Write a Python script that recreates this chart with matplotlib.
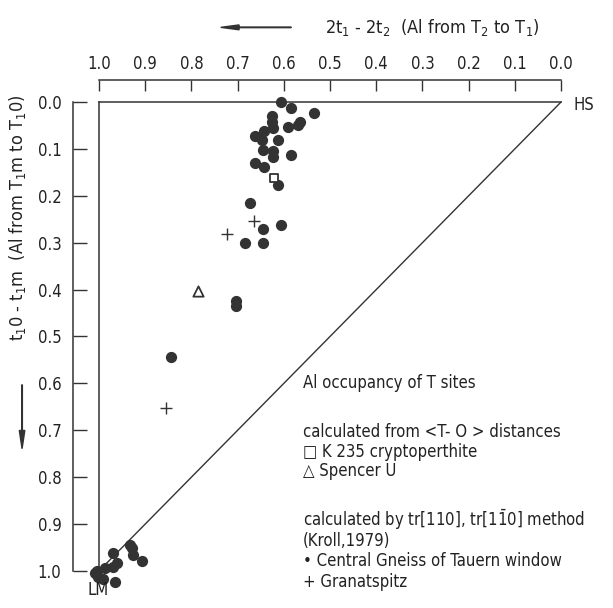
import matplotlib
matplotlib.use("Agg")
import matplotlib.pyplot as plt
from matplotlib.patches import FancyArrow

plt.rcParams['font.family'] = ['DejaVu Sans']
plt.rcParams['font.stretch'] = 'condensed'
plt.rcParams['mathtext.fontset'] = 'custom'
plt.rcParams['mathtext.rm'] = 'DejaVu Sans:stretch=condensed'
plt.rcParams['mathtext.it'] = 'DejaVu Sans:stretch=condensed'

# Central Gneiss of Tauern window (dots)
gneiss_x = [0.605, 0.585, 0.534, 0.625, 0.625, 0.623, 0.564, 0.569, 0.592,
            0.642, 0.662, 0.648, 0.613, 0.644, 0.623, 0.623, 0.585, 0.662,
            0.643, 0.613, 0.673, 0.646, 0.605, 0.685, 0.646,
            0.704, 0.704, 0.845,
            0.933, 0.929, 0.926, 0.908, 0.969, 0.962, 0.969, 0.987,
            1.009, 1.002, 0.991, 0.965, 1.005]
gneiss_y = [0.001, 0.012, 0.023, 0.030, 0.042, 0.056, 0.043, 0.049, 0.053,
            0.061, 0.072, 0.081, 0.082, 0.102, 0.104, 0.117, 0.113, 0.129,
            0.139, 0.178, 0.215, 0.271, 0.262, 0.301, 0.301,
            0.425, 0.435, 0.543,
            0.945, 0.952, 0.966, 0.978, 0.962, 0.984, 0.991, 0.994,
            1.005, 1.012, 1.018, 1.024, 1.001]

# Granatspitz (plus)
granat_x = [0.665, 0.724, 0.854]
granat_y = [0.253, 0.282, 0.653]

# K 235 cryptoperthite (square), Spencer U (triangle)
k235_x, k235_y = [0.622], [0.163]
spencer_x, spencer_y = [0.785], [0.402]

ticks = [1.0, 0.9, 0.8, 0.7, 0.6, 0.5, 0.4, 0.3, 0.2, 0.1, 0.0]
tick_labels = ['1.0', '0.9', '0.8', '0.7', '0.6', '0.5', '0.4', '0.3', '0.2', '0.1', '0.0']

ink = '#333333'
txt = '#222222'

fig = plt.figure(figsize=(6.13, 6.08), dpi=100)
ax = fig.add_axes([0.1615, 0.0609, 0.7537, 0.7713])
ax.set_xlim(1.0, 0.0)
ax.set_ylim(1.0, 0.0)

# frame triangle
ax.plot([1.0, 0.0], [0.0, 0.0], color=ink, lw=1.1, clip_on=False)
ax.plot([1.0, 1.0], [0.0, 1.0], color=ink, lw=1.1, clip_on=False)
ax.plot([0.0, 1.0], [0.0, 1.0], color=ink, lw=1.0, clip_on=False)

ax.scatter(gneiss_x, gneiss_y, s=50, color=ink, clip_on=False, zorder=3)
ax.scatter(granat_x, granat_y, s=80, marker='+', color=ink, linewidths=1.0, clip_on=False, zorder=3)
ax.scatter(k235_x, k235_y, s=40, marker='s', facecolor='white', edgecolor=ink, linewidths=1.3, zorder=4)
ax.scatter(spencer_x, spencer_y, s=55, marker='^', facecolor='white', edgecolor=ink, linewidths=1.3, zorder=4)

# axes on top and left, offset outward
for side in ['right', 'bottom']:
    ax.spines[side].set_visible(False)
ax.spines['top'].set_position(('outward', 16))
ax.spines['left'].set_position(('outward', 19))
ax.spines['top'].set_bounds(0.0, 1.0)
ax.spines['left'].set_bounds(0.0, 1.0)
for side in ['top', 'left']:
    ax.spines[side].set_color(ink)
    ax.spines[side].set_linewidth(1.1)

ax.xaxis.tick_top()
ax.set_xticks(ticks)
ax.set_xticklabels(tick_labels)
ax.set_yticks(ticks)
ax.set_yticklabels(tick_labels)
ax.tick_params(axis='both', direction='in', width=1.0, colors=ink,
               labelsize=12, labelcolor=txt)
ax.tick_params(axis='x', length=8, pad=5)
ax.tick_params(axis='y', length=10, pad=8)

# axis titles with arrows
fig.text(0.53, 0.955, r'2t$_1$ - 2t$_2$  (Al from T$_2$ to T$_1$)', fontsize=13,
         color=txt, ha='left', va='center')
fig.patches.append(FancyArrow(
    0.475, 0.955, -0.115, 0, width=0.001, head_width=0.008, head_length=0.03,
    length_includes_head=True, color=ink, transform=fig.transFigure, figure=fig))

fig.text(0.029, 0.641, r't$_1$0 - t$_1$m  (Al from T$_1$m to T$_1$0)', fontsize=13,
         color=txt, rotation=90, ha='center', va='center')
fig.patches.append(FancyArrow(
    0.036, 0.367, 0, -0.105, width=0.001, head_width=0.009, head_length=0.03,
    length_includes_head=True, color=ink, transform=fig.transFigure, figure=fig))

fig.text(0.935, 0.828, 'HS', fontsize=12, color=txt, ha='left', va='center')
fig.text(0.160, 0.030, 'LM', fontsize=12, color=txt, ha='center', va='center')

# legend block
lx = 0.494
legend_lines = [
    (0.370, 'Al occupancy of T sites'),
    (0.289, 'calculated from <T- O > distances'),
    (0.257, '\u25a1 K 235 cryptoperthite'),
    (0.225, '\u25b3 Spencer U'),
    (0.145, r'calculated by tr[110], tr[1$\bar{1}$0] method'),
    (0.110, '(Kroll,1979)'),
    (0.077, '\u2022 Central Gneiss of Tauern window'),
    (0.043, '+ Granatspitz'),
]
for yy, line in legend_lines:
    fig.text(lx, yy, line, fontsize=12, color=txt, ha='left', va='center')

fig.savefig('out.png', dpi=100)
